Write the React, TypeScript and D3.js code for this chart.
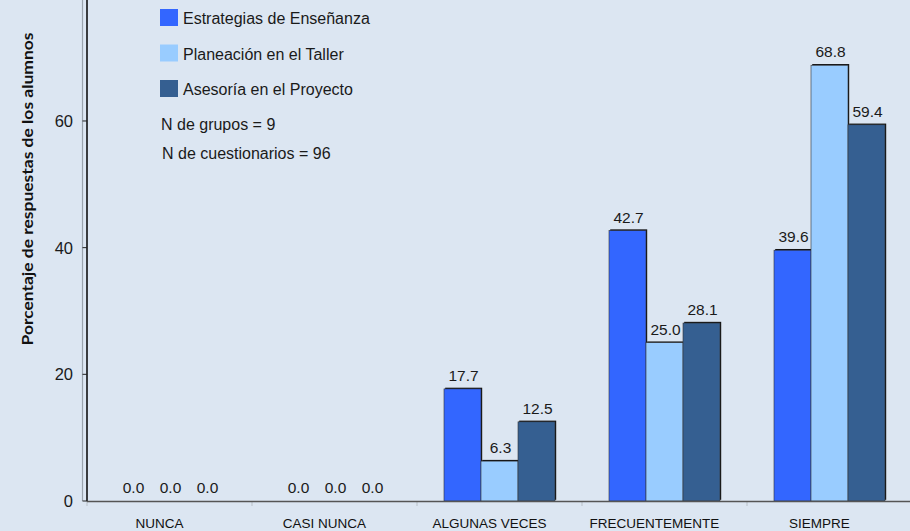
import React from "react";
import * as d3 from "d3";

const categories = ["NUNCA", "CASI NUNCA", "ALGUNAS VECES", "FRECUENTEMENTE", "SIEMPRE"];
const seriesNames = ["Estrategias de Enseñanza", "Planeación en el Taller", "Asesoría en el Proyecto"];
const estrategias = [0.0, 0.0, 17.7, 42.7, 39.6];
const planeacion = [0.0, 0.0, 6.3, 25.0, 68.8];
const asesoria = [0.0, 0.0, 12.5, 28.1, 59.4];
const yTicks = [0, 20, 40, 60, 80];
const notes = ["N de grupos = 9", "N de cuestionarios = 96"];
const colors = ["#3366FF", "#99CCFF", "#355F91"];

const W = 910;
const H = 531;

export default function App() {
  const series = [estrategias, planeacion, asesoria];
  const x0 = d3.scaleBand<string>().domain(categories).range([87, 912]).padding(0);
  const x1 = d3
    .scaleBand<number>()
    .domain([0, 1, 2])
    .range([27, x0.bandwidth() - 27])
    .padding(0);
  const y = d3.scaleLinear().domain([0, 80]).range([501, -5.7]);
  const font = "'Liberation Sans', Arial, sans-serif";

  return (
    <svg
      width={W}
      height={H}
      style={{ position: "absolute", left: 0, top: 0, background: "#DCE6F2" }}
    >
      <rect x={0} y={0} width={W} height={H} fill="#DCE6F2" />
      {/* y axis */}
      <line x1={82.5} x2={82.5} y1={y(80)} y2={y(0)} stroke="#9aa3ad" strokeWidth={1.2} />
      <line x1={87} x2={87} y1={y(80)} y2={y(0) + 1} stroke="#111" strokeWidth={1.6} />
      {yTicks.map((t) => (
        <g key={t}>
          <line x1={82.5} x2={87} y1={y(t)} y2={y(t)} stroke="#222" strokeWidth={1} />
          <text
            x={73}
            y={y(t)}
            dy="0.36em"
            textAnchor="end"
            fontFamily={font}
            fontSize={16.5}
            fill="#1a1a1a"
          >
            {t}
          </text>
        </g>
      ))}
      {/* category boundary ticks */}
      {categories.map((c) => (
        <line
          key={c}
          x1={x0(c)!}
          x2={x0(c)!}
          y1={y(0)}
          y2={y(0) + 5}
          stroke="#b8c0c8"
          strokeWidth={1}
        />
      ))}
      {/* bars */}
      {categories.map((c, i) => (
        <g key={c} transform={`translate(${x0(c)},0)`}>
          {series.map((s, j) => {
            const v = s[i];
            const bx = x1(j)!;
            const bw = x1.bandwidth();
            const top = y(v);
            const h = y(0) - top;
            return (
              <g key={j}>
                {v > 0 && (
                  <>
                    <rect x={bx + 1.2} y={top - 1.2} width={bw} height={h} fill="#111" />
                    <rect
                      x={bx}
                      y={top}
                      width={bw}
                      height={h}
                      fill={colors[j]}
                      stroke="#333"
                      strokeWidth={0.6}
                    />
                  </>
                )}
                <text
                  x={bx + bw / 2 + 1}
                  y={top - 8}
                  textAnchor="middle"
                  fontFamily={font}
                  fontSize={15.5}
                  fill="#1a1a1a"
                >
                  {v.toFixed(1)}
                </text>
              </g>
            );
          })}
        </g>
      ))}
      {/* x axis */}
      <line x1={87} x2={W} y1={y(0) + 0.5} y2={y(0) + 0.5} stroke="#555" strokeWidth={1.6} />
      {categories.map((c) => (
        <text
          key={c}
          x={x0(c)! + x0.bandwidth() / 2 - 10}
          y={528}
          textAnchor="middle"
          fontFamily={font}
          fontSize={13.5}
          fill="#111"
        >
          {c}
        </text>
      ))}
      {/* y title */}
      <text
        transform={`translate(32.5,${189}) rotate(-90)`}
        textAnchor="middle"
        fontFamily="Lato, 'Open Sans', sans-serif"
        fontWeight="bold"
        fontSize={16}
        textLength={313}
        lengthAdjust="spacingAndGlyphs"
        fill="#111"
      >
        Porcentaje de respuestas de los alumnos
      </text>
      {/* legend */}
      {seriesNames.map((n, j) => (
        <g key={n} transform={`translate(160,${9 + j * 35.5})`}>
          <rect x={0} y={0} width={18} height={17} fill={colors[j]} />
          <text x={23} y={15} fontFamily={font} fontSize={16} fill="#1a1a1a">
            {n}
          </text>
        </g>
      ))}
      {notes.map((n, k) => (
        <text
          key={n}
          x={161 + k}
          y={130 + k * 29}
          fontFamily={font}
          fontSize={16}
          fill="#1a1a1a"
        >
          {n}
        </text>
      ))}
    </svg>
  );
}
